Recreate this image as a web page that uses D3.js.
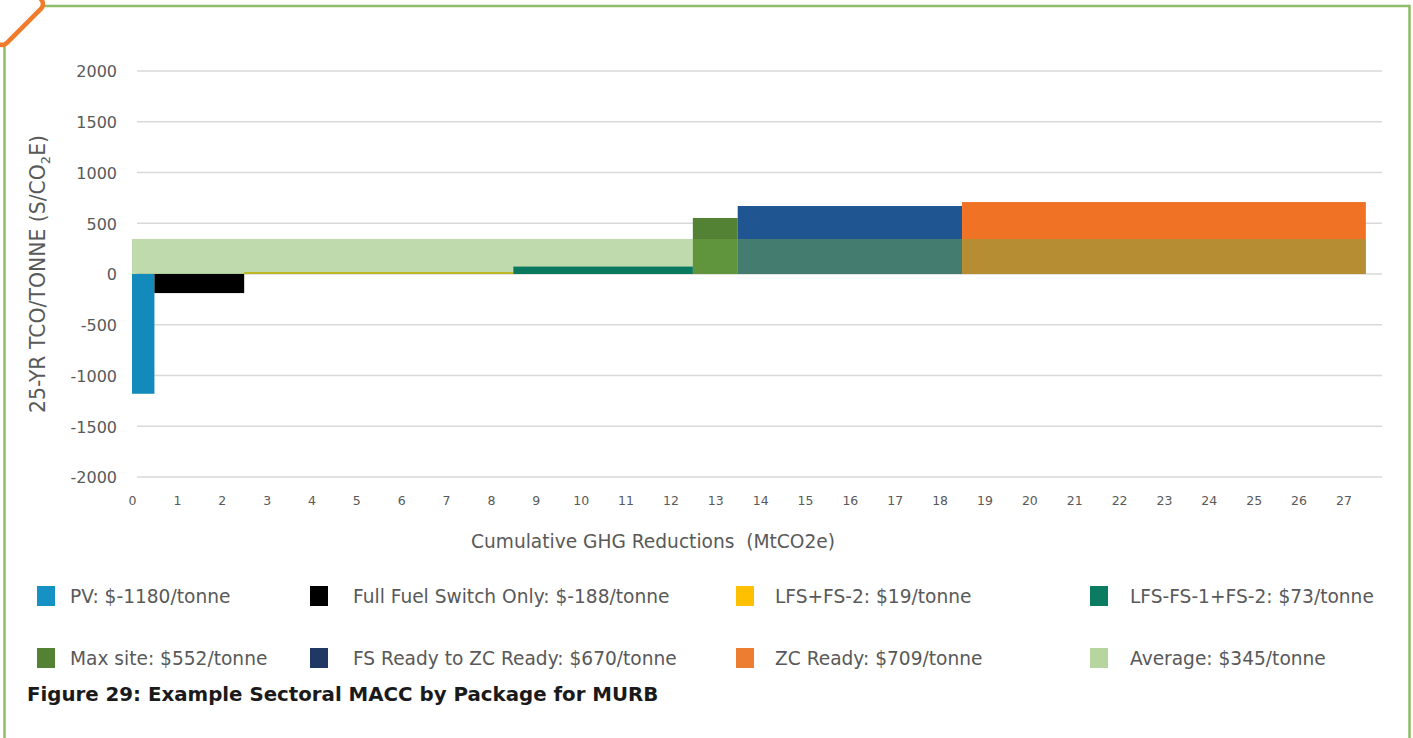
<!DOCTYPE html>
<html>
<head>
<meta charset="utf-8">
<script src="https://cdn.jsdelivr.net/npm/d3@7"></script>
<style>
  html, body { margin: 0; padding: 0; background: #ffffff; }
  svg { display: block; }
</style>
</head>
<body>
<div id="chart"></div>
<script>
// ---------- DATA ----------
const packages = ["PV", "Full Fuel Switch Only", "LFS+FS-2", "LFS-FS-1+FS-2",
                  "Max site", "FS Ready to ZC Ready", "ZC Ready"];
const reductions = [0.5, 2, 6, 4, 1, 5, 9];          // MtCO2e (bar widths)
const costs = [-1180, -188, 19, 73, 552, 670, 709];   // $/tonne
const averageLabel = "Average";
const averageCost = 345;
const legendLabels = ["PV: $-1180/tonne", "Full Fuel Switch Only: $-188/tonne",
  "LFS+FS-2: $19/tonne", "LFS-FS-1+FS-2: $73/tonne",
  "Max site: $552/tonne", "FS Ready to ZC Ready: $670/tonne",
  "ZC Ready: $709/tonne", "Average: $345/tonne"];
const yTicks = [-2000, -1500, -1000, -500, 0, 500, 1000, 1500, 2000];
const xTicks = d3.range(0, 28);

// ---------- STYLE ----------
const barColors = ["#138abc", "#000000", "#ffc000", "#08795f", "#548235", "#1f5591", "#f07325"];
const legendColors = ["#1591c4", "#000000", "#ffc000", "#0b7b62", "#548235", "#203864", "#ed7d31", "#b6d59f"];
const avgColor = "#70ad47", avgOpacity = 0.45;
const textGray = "#595959";

const W = 1413, H = 738;
const svg = d3.select("#chart").append("svg").attr("width", W).attr("height", H);

// frame
svg.append("rect").attr("x", 4.5).attr("y", 6).attr("width", 1405).attr("height", 800)
  .attr("fill", "none").attr("stroke", "#8cbd67").attr("stroke-width", 2.5);
// orange corner badge
svg.append("rect").attr("x", -29).attr("y", -27).attr("width", 62).attr("height", 62)
  .attr("rx", 7).attr("transform", "rotate(45 2 4)")
  .attr("fill", "#ffffff").attr("stroke", "#f07b2a").attr("stroke-width", 4.5);

// ---------- SCALES ----------
const x = d3.scaleLinear().domain([0, 27.86]).range([132, 1382]);
const y = d3.scaleLinear().domain([-2000, 2000]).range([477, 71]);

// gridlines
svg.append("g").selectAll("line").data(yTicks).join("line")
  .attr("x1", x(0) + 5).attr("x2", x.range()[1])
  .attr("y1", d => y(d)).attr("y2", d => y(d))
  .attr("stroke", "#d9d9d9").attr("stroke-width", 1.6);

// y tick labels
const yAxis = d3.axisLeft(y).tickValues(yTicks).tickSize(0).tickPadding(0).tickFormat(d => String(d));
const gy = svg.append("g").attr("transform", `translate(${117},0)`).call(yAxis);
gy.select(".domain").remove();
gy.selectAll("text").attr("fill", textGray).attr("font-family", "DejaVu Sans")
  .attr("font-size", 16).attr("dy", "0.36em");

// x tick labels
const xAxis = d3.axisBottom(x).tickValues(xTicks).tickSize(0).tickPadding(0).tickFormat(d => String(d));
const gx = svg.append("g").attr("transform", `translate(0,${500})`).call(xAxis);
gx.select(".domain").remove();
gx.selectAll("text").attr("fill", textGray).attr("font-family", "DejaVu Sans")
  .attr("font-size", 12.5).attr("dy", "0.36em");

// ---------- BARS ----------
const starts = [];
reductions.reduce((acc, w, i) => { starts[i] = acc; return acc + w; }, 0);
const total = d3.sum(reductions);
const bars = packages.map((p, i) => ({ name: p, x0: starts[i], x1: starts[i] + reductions[i], v: costs[i], color: barColors[i] }));

function drawBar(g, d, opacity) {
  g.append("rect")
    .attr("x", x(d.x0)).attr("width", x(d.x1) - x(d.x0))
    .attr("y", y(Math.max(0, d.v))).attr("height", Math.abs(y(d.v) - y(0)))
    .attr("fill", d.color).attr("fill-opacity", opacity);
}
const gb = svg.append("g");
// draw order: packages under the average, except LFS-FS-1+FS-2 which sits on top
const underOrder = [2, 0, 1, 4, 5, 6];
underOrder.forEach(i => drawBar(gb, bars[i], 1));
drawBar(gb, { name: averageLabel, x0: 0, x1: total, v: averageCost, color: avgColor }, avgOpacity);
drawBar(gb, bars[3], 1);

// ---------- AXIS TITLES ----------
svg.append("text").attr("x", 653).attr("y", 541).attr("dy", "0.36em")
  .attr("text-anchor", "middle").attr("fill", textGray)
  .attr("font-family", "DejaVu Sans").attr("font-size", 18.6)
  .attr("xml:space", "preserve")
  .text("Cumulative GHG Reductions  (MtCO2e)");

const yt = svg.append("text").attr("transform", `translate(38,${y(0)}) rotate(-90)`)
  .attr("dy", "0.36em").attr("text-anchor", "middle").attr("fill", textGray)
  .attr("font-family", "DejaVu Sans").attr("font-size", 20.4);
yt.append("tspan").text("25-YR TCO/TONNE (S/CO");
yt.append("tspan").attr("font-size", 13).attr("dy", "0.35em").text("2");
yt.append("tspan").attr("dy", "-0.25em").text("E)");

// ---------- LEGEND ----------
const colSw = [37, 310, 736, 1090];
const colTx = [70, 353, 775, 1130];
const rowY = [596, 658];
const lg = svg.append("g");
legendLabels.forEach((lab, i) => {
  const r = Math.floor(i / 4), c = i % 4;
  lg.append("rect").attr("x", colSw[c]).attr("y", rowY[r] - 10).attr("width", 18).attr("height", 20)
    .attr("fill", legendColors[i]);
  lg.append("text").attr("x", colTx[c]).attr("y", rowY[r]).attr("dy", "0.36em")
    .attr("fill", textGray).attr("font-family", "DejaVu Sans").attr("font-size", 18.6).text(lab);
});

// ---------- CAPTION ----------
svg.append("text").attr("x", 27).attr("y", 694).attr("dy", "0.36em")
  .attr("fill", "#1a1a1a").attr("font-family", "DejaVu Sans").attr("font-weight", "bold")
  .attr("font-size", 19.8).text("Figure 29: Example Sectoral MACC by Package for MURB");
</script>
</body>
</html>
